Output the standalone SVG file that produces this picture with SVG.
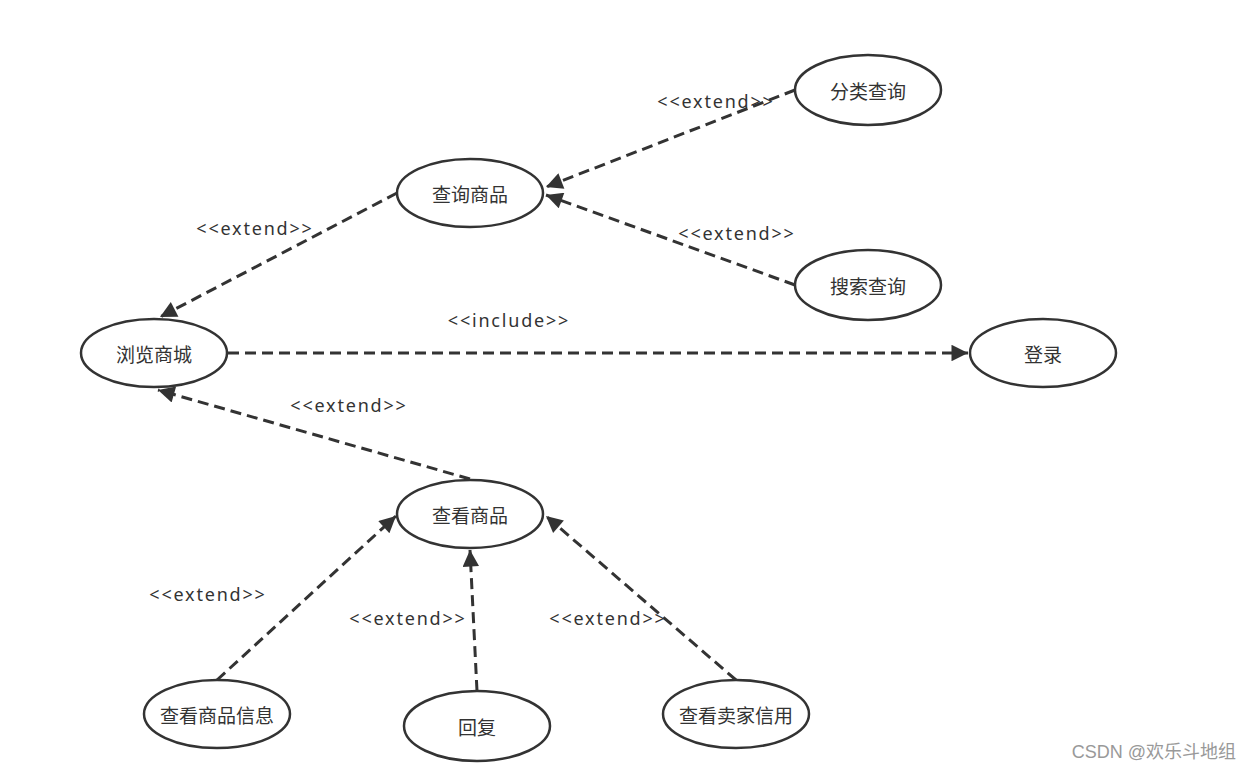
<svg xmlns="http://www.w3.org/2000/svg" width="1252" height="770" viewBox="0 0 1252 770">
<style>
.n ellipse{fill:#fff;stroke:#333;stroke-width:2.5}
.n text{font-family:"Noto Sans CJK SC","Noto Sans",sans-serif;font-size:19px;fill:#333;text-anchor:middle;dominant-baseline:central}
.c line{stroke:#333;stroke-width:3;stroke-dasharray:11 6;fill:none}
.lbl{font-family:"Noto Sans","Noto Sans CJK SC",sans-serif;font-size:18px;fill:#333;text-anchor:middle;letter-spacing:1.8px}
.wm{font-family:"Liberation Sans","Noto Sans CJK SC",sans-serif;font-size:18px;fill:#999;text-anchor:end}
</style>
<defs>
<marker id="ah" viewBox="0 0 10 10" refX="10" refY="5" markerWidth="6.5" markerHeight="5.5" markerUnits="strokeWidth" orient="auto">
<path d="M0,0 L10,5 L0,10 Z" fill="#333"/>
</marker>
</defs>
<rect width="1252" height="770" fill="#fff"/>
<g id="connectors" class="c">
<line x1="795" y1="90" x2="546" y2="187" marker-end="url(#ah)"/>
<line x1="795" y1="285" x2="546" y2="195" marker-end="url(#ah)"/>
<line x1="397" y1="193" x2="160" y2="317" marker-end="url(#ah)"/>
<line x1="228" y1="353" x2="968" y2="353" marker-end="url(#ah)"/>
<line x1="470" y1="479" x2="158" y2="390" marker-end="url(#ah)"/>
<line x1="217" y1="680" x2="396" y2="516" marker-end="url(#ah)"/>
<line x1="477" y1="691" x2="470" y2="550" marker-end="url(#ah)"/>
<line x1="736" y1="680" x2="546" y2="516" marker-end="url(#ah)"/>
</g>
<g id="labels">
<text class="lbl" x="716" y="108">&lt;&lt;extend&gt;&gt;</text>
<text class="lbl" x="737" y="240">&lt;&lt;extend&gt;&gt;</text>
<text class="lbl" x="255" y="235">&lt;&lt;extend&gt;&gt;</text>
<text class="lbl" x="509" y="327">&lt;&lt;include&gt;&gt;</text>
<text class="lbl" x="349" y="412">&lt;&lt;extend&gt;&gt;</text>
<text class="lbl" x="208" y="601">&lt;&lt;extend&gt;&gt;</text>
<text class="lbl" x="408" y="625">&lt;&lt;extend&gt;&gt;</text>
<text class="lbl" x="608" y="625">&lt;&lt;extend&gt;&gt;</text>
</g>
<g id="n-flcx" class="n"><ellipse cx="868" cy="90" rx="73" ry="35"/><text x="868" y="90">分类查询</text></g>
<g id="n-cxsp" class="n"><ellipse cx="470" cy="193" rx="73" ry="34"/><text x="470" y="193">查询商品</text></g>
<g id="n-sscx" class="n"><ellipse cx="868" cy="285" rx="73" ry="35"/><text x="868" y="285">搜索查询</text></g>
<g id="n-llsc" class="n"><ellipse cx="154" cy="353" rx="73" ry="34"/><text x="154" y="353">浏览商城</text></g>
<g id="n-dl" class="n"><ellipse cx="1043" cy="353" rx="73" ry="34"/><text x="1043" y="353">登录</text></g>
<g id="n-cksp" class="n"><ellipse cx="470" cy="514" rx="73" ry="34"/><text x="470" y="514">查看商品</text></g>
<g id="n-ckspxx" class="n"><ellipse cx="217" cy="714" rx="73" ry="34"/><text x="217" y="714">查看商品信息</text></g>
<g id="n-hf" class="n"><ellipse cx="477" cy="726" rx="73" ry="35"/><text x="477" y="726">回复</text></g>
<g id="n-ckmjxy" class="n"><ellipse cx="736" cy="714" rx="73" ry="34"/><text x="736" y="714">查看卖家信用</text></g>
<text class="wm" x="1236" y="758">CSDN @欢乐斗地组</text>
</svg>
